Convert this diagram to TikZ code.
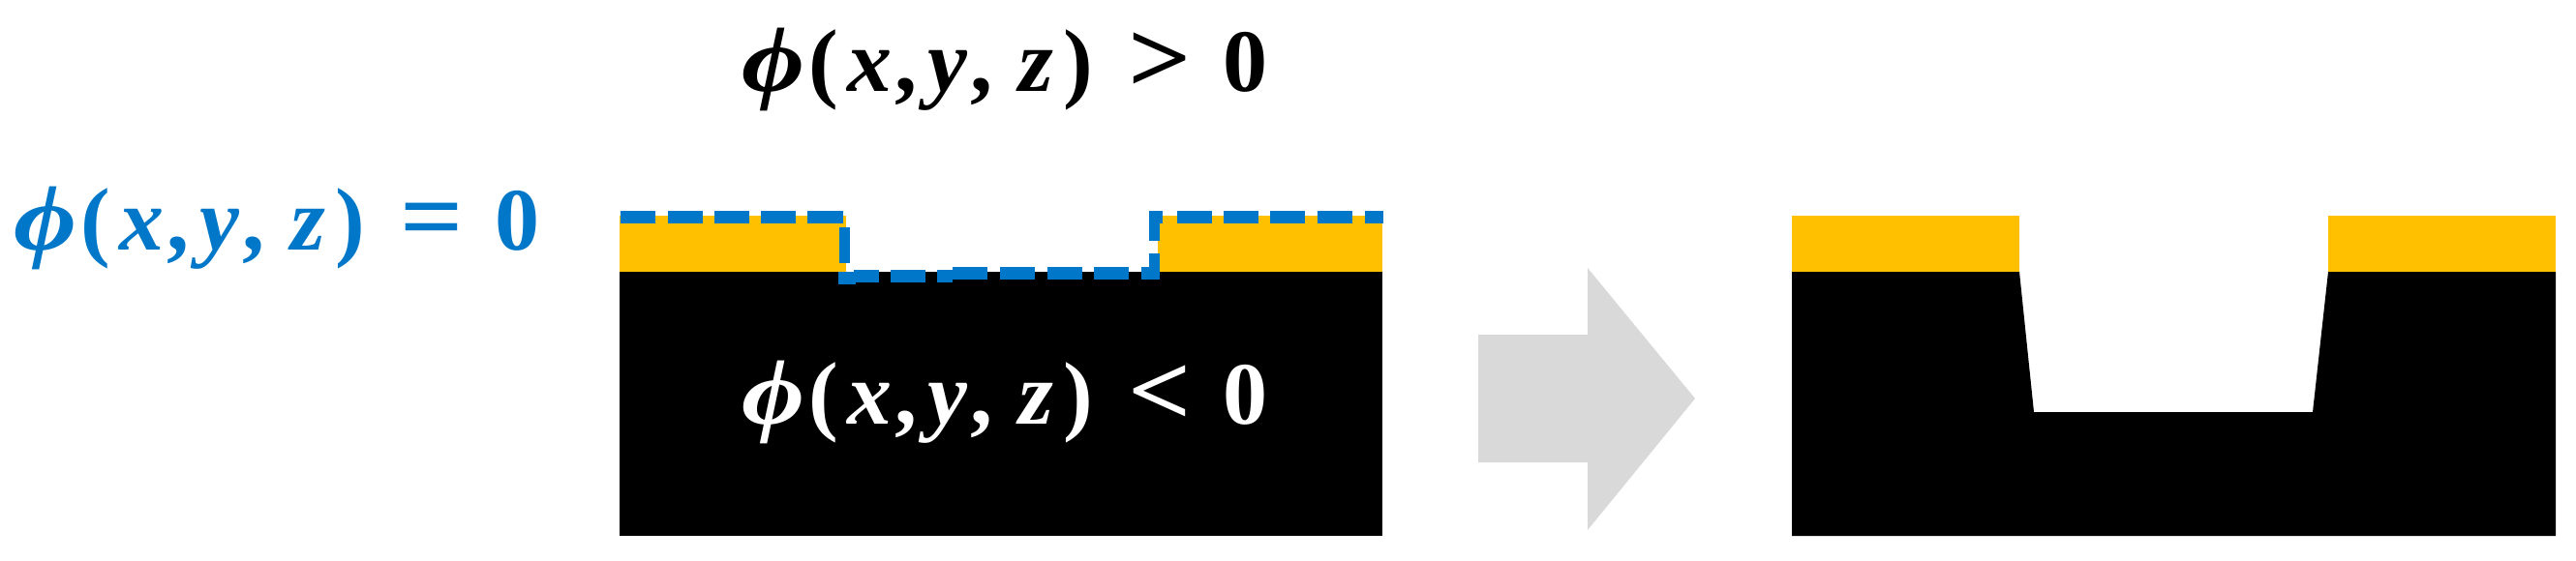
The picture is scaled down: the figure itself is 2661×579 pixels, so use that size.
\documentclass[tikz,border=0pt]{standalone}
\usepackage{fontspec}
\usepackage{graphicx}
\setmainfont{Liberation Serif}
\definecolor{gold}{HTML}{FFC000}
\definecolor{lsblue}{HTML}{0077C8}
\definecolor{arrowgrey}{HTML}{D9D9D9}
\tikzset{
  formula/.style={inner sep=0pt,font=\fontsize{92}{100}\selectfont\bfseries},
  lsdash/.style={draw=lsblue,line width=13pt,line cap=butt},
  layer/.style={fill=gold,draw=none},
  substrate/.style={fill=black,draw=none}
}
\newcommand{\phieq}[1]{\scalebox{1.22}[1.04]{\textit{ϕ}}\kern4pt(\kern10pt\textit{x}\kern3pt,\kern11pt\textit{y}\kern3pt,\kern27pt\textit{z}\kern10pt)\kern36pt\raisebox{-1pt}{\scalebox{1.25}[1.15]{#1}}\kern33pt 0}
\begin{document}
\begin{tikzpicture}[x=1pt,y=-1pt]
\useasboundingbox (0,0) rectangle (2661,579);
% left structure
\fill[substrate] (640,281) rectangle (1428,554);
\fill[layer] (640,223) rectangle (874,281);
\fill[layer] (1196,223) rectangle (1428,281);
\foreach \a/\b in {641/677,690/726,738/774,786/822,834/871,1216/1252,1264/1300,1312/1348,1361/1397,1410/1429}
  \draw[lsdash] (\a,224.5) -- (\b,224.5);
\foreach \a/\b in {882/908,920/956,968/984}
  \draw[lsdash] (\a,285) -- (\b,285);
\draw[lsdash] (866,287) -- (884,287);
\foreach \a/\b in {984/1020,1033/1069,1082/1118,1130/1166,1179/1198}
  \draw[lsdash] (\a,282.5) -- (\b,282.5);
\draw[lsdash,line width=11pt] (872.5,235) -- (872.5,272);
\draw[lsdash,line width=11pt] (1192,262) -- (1192,288);
\draw[lsdash,line width=11pt] (1192,218) -- (1192,249);
\draw[lsdash,line width=6pt] (1198,218) -- (1198,231);
% arrow
\fill[arrowgrey] (1527,346) -- (1640,346) -- (1640,277) -- (1751,412) -- (1640,548) -- (1640,478) -- (1527,478) -- cycle;
% right structure
\fill[substrate] (1851,281) -- (2086,281) -- (2101,426) -- (2389,426) -- (2405,281) -- (2640,281) -- (2640,554) -- (1851,554) -- cycle;
\fill[layer] (1851,223) rectangle (2086,281);
\fill[layer] (2405,223) rectangle (2640,281);
% labels
\node[formula,text=black] (above) at (1038,72) {\phieq{>}};
\node[formula,text=lsblue] (zero) at (286,236) {\phieq{=}};
\node[formula,text=white] (below) at (1038,416) {\phieq{<}};
\end{tikzpicture}
\end{document}
